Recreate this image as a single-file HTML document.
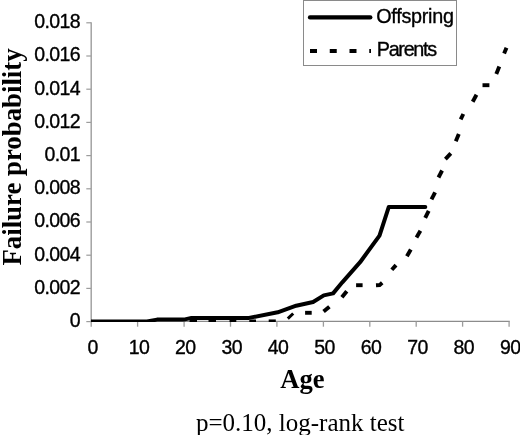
<!DOCTYPE html>
<html><head><meta charset="utf-8"><title>Failure probability by age</title>
<style>
html,body{margin:0;padding:0;background:#fff;}
body{width:520px;height:435px;overflow:hidden;}
svg{display:block;}
.sans{font-family:"Liberation Sans",Arial,Helvetica,sans-serif;fill:#000;stroke:#000;stroke-width:0.35px;}
.serif{font-family:"Liberation Serif","Times New Roman",Times,serif;fill:#000;}
</style></head><body>
<svg width="520" height="435" viewBox="0 0 520 435">
<rect width="520" height="435" fill="#fff"/>

<g fill="none">
<line x1="91.2" y1="22.3" x2="91.2" y2="322" stroke="#9c9c9c" stroke-width="1.4"/>
<line x1="90.5" y1="321.45" x2="509.8" y2="321.45" stroke="#8c8c8c" stroke-width="1.3"/>
<line x1="86.3" y1="22.8" x2="91" y2="22.8" stroke="#9c9c9c" stroke-width="1.2"/>
<line x1="86.3" y1="56.0" x2="91" y2="56.0" stroke="#9c9c9c" stroke-width="1.2"/>
<line x1="86.3" y1="89.2" x2="91" y2="89.2" stroke="#9c9c9c" stroke-width="1.2"/>
<line x1="86.3" y1="122.4" x2="91" y2="122.4" stroke="#9c9c9c" stroke-width="1.2"/>
<line x1="86.3" y1="155.6" x2="91" y2="155.6" stroke="#9c9c9c" stroke-width="1.2"/>
<line x1="86.3" y1="188.8" x2="91" y2="188.8" stroke="#9c9c9c" stroke-width="1.2"/>
<line x1="86.3" y1="222.0" x2="91" y2="222.0" stroke="#9c9c9c" stroke-width="1.2"/>
<line x1="86.3" y1="255.2" x2="91" y2="255.2" stroke="#9c9c9c" stroke-width="1.2"/>
<line x1="86.3" y1="288.4" x2="91" y2="288.4" stroke="#9c9c9c" stroke-width="1.2"/>
<line x1="86.3" y1="321.6" x2="91" y2="321.6" stroke="#9c9c9c" stroke-width="1.2"/>
<line x1="91.2" y1="321.5" x2="91.2" y2="326.7" stroke="#9c9c9c" stroke-width="1.3"/>
<line x1="137.6" y1="321.5" x2="137.6" y2="326.7" stroke="#9c9c9c" stroke-width="1.3"/>
<line x1="184.1" y1="321.5" x2="184.1" y2="326.7" stroke="#9c9c9c" stroke-width="1.3"/>
<line x1="230.5" y1="321.5" x2="230.5" y2="326.7" stroke="#9c9c9c" stroke-width="1.3"/>
<line x1="276.9" y1="321.5" x2="276.9" y2="326.7" stroke="#9c9c9c" stroke-width="1.3"/>
<line x1="323.4" y1="321.5" x2="323.4" y2="326.7" stroke="#9c9c9c" stroke-width="1.3"/>
<line x1="369.8" y1="321.5" x2="369.8" y2="326.7" stroke="#9c9c9c" stroke-width="1.3"/>
<line x1="416.2" y1="321.5" x2="416.2" y2="326.7" stroke="#9c9c9c" stroke-width="1.3"/>
<line x1="462.6" y1="321.5" x2="462.6" y2="326.7" stroke="#9c9c9c" stroke-width="1.3"/>
<line x1="509.1" y1="321.5" x2="509.1" y2="326.7" stroke="#9c9c9c" stroke-width="1.3"/>
</g>
<text class="sans" x="80.0" y="28.1" font-size="19.5" letter-spacing="-0.6" text-anchor="end">0.018</text>
<text class="sans" x="80.0" y="61.3" font-size="19.5" letter-spacing="-0.6" text-anchor="end">0.016</text>
<text class="sans" x="80.0" y="94.5" font-size="19.5" letter-spacing="-0.6" text-anchor="end">0.014</text>
<text class="sans" x="80.0" y="127.7" font-size="19.5" letter-spacing="-0.6" text-anchor="end">0.012</text>
<text class="sans" x="80.0" y="160.9" font-size="19.5" letter-spacing="-0.6" text-anchor="end">0.01</text>
<text class="sans" x="80.0" y="194.1" font-size="19.5" letter-spacing="-0.6" text-anchor="end">0.008</text>
<text class="sans" x="80.0" y="227.3" font-size="19.5" letter-spacing="-0.6" text-anchor="end">0.006</text>
<text class="sans" x="80.0" y="260.5" font-size="19.5" letter-spacing="-0.6" text-anchor="end">0.004</text>
<text class="sans" x="80.0" y="293.7" font-size="19.5" letter-spacing="-0.6" text-anchor="end">0.002</text>
<text class="sans" x="80.0" y="326.9" font-size="19.5" letter-spacing="-0.6" text-anchor="end">0</text>
<text class="sans" x="92.5" y="354.1" font-size="19.5" letter-spacing="-0.6" text-anchor="middle">0</text>
<text class="sans" x="138.9" y="354.1" font-size="19.5" letter-spacing="-0.6" text-anchor="middle">10</text>
<text class="sans" x="185.3" y="354.1" font-size="19.5" letter-spacing="-0.6" text-anchor="middle">20</text>
<text class="sans" x="231.7" y="354.1" font-size="19.5" letter-spacing="-0.6" text-anchor="middle">30</text>
<text class="sans" x="278.1" y="354.1" font-size="19.5" letter-spacing="-0.6" text-anchor="middle">40</text>
<text class="sans" x="324.6" y="354.1" font-size="19.5" letter-spacing="-0.6" text-anchor="middle">50</text>
<text class="sans" x="371.0" y="354.1" font-size="19.5" letter-spacing="-0.6" text-anchor="middle">60</text>
<text class="sans" x="417.4" y="354.1" font-size="19.5" letter-spacing="-0.6" text-anchor="middle">70</text>
<text class="sans" x="463.8" y="354.1" font-size="19.5" letter-spacing="-0.6" text-anchor="middle">80</text>
<text class="sans" x="510.2" y="354.1" font-size="19.5" letter-spacing="-0.6" text-anchor="middle">90</text>
<defs><clipPath id="plotclip"><rect x="91" y="0" width="430" height="321.9"/></clipPath></defs>
<g fill="none" stroke="#000" stroke-width="3.9" clip-path="url(#plotclip)">
<polyline points="189.5,321.4 197.0,321.4"/>
<polyline points="208.5,321.4 216.0,321.4"/>
<polyline points="229.5,321.4 236.3,321.4"/>
<polyline points="249.3,321.4 256.0,321.4"/>
<polyline points="268.7,321.4 275.8,321.4"/>
<polyline points="287.8,318.7 293.2,313.5" stroke-width="3"/>
<polyline points="305.1,312.8 311.7,312.8"/>
<polyline points="323.6,311.6 329.4,306.8"/>
<polyline points="341.9,297.3 346.8,291.2"/>
<polyline points="356.1,285.2 362.6,285.2"/>
<polyline points="376.0,285.3 379.6,285.1 382.2,282.8"/>
<polyline points="391.8,269.8 396.0,265.1"/>
<polyline points="406.9,256.3 410.8,249.5"/>
<polyline points="416.5,237.4 420.4,230.7"/>
<polyline points="425.2,217.8 428.7,210.9"/>
<polyline points="431.5,199.3 435.1,192.3"/>
<polyline points="438.5,177.5 442.1,170.5"/>
<polyline points="445.4,159.1 450.8,153.4"/>
<polyline points="455.8,141.2 458.8,134.0"/>
<polyline points="460.7,119.4 463.3,114.0"/>
<polyline points="472.7,101.8 476.5,94.8"/>
<polyline points="482.5,85.2 489.4,85.2"/>
<polyline points="496.3,73.9 499.3,66.5"/>
<polyline points="504.1,53.6 506.5,47.8"/>
</g>
<polyline points="91.4,321.4 147.0,321.4 157.0,319.6 183.8,319.6 191.5,317.9 249.0,317.9 277.7,312.3 296.2,305.7 313.1,302.0 323.8,295.4 333.1,293.4 342.3,282.3 360.1,262.2 379.5,235.6 388.8,206.9 425.3,206.9" fill="none" stroke="#000" stroke-width="4.0" stroke-linejoin="round" stroke-linecap="round" clip-path="url(#plotclip)"/>
<rect x="303.5" y="0.5" width="152.6" height="65" fill="#fff" stroke="#8a8a8a" stroke-width="1" shape-rendering="crispEdges"/>
<line x1="310" y1="17.4" x2="370.3" y2="17.4" stroke="#000" stroke-width="4.3" stroke-linecap="round"/>
<line x1="310" y1="50.9" x2="371" y2="50.9" stroke="#000" stroke-width="4" stroke-dasharray="7 12.75"/>
<text class="sans" x="376.2" y="23.2" font-size="19.8" textLength="77.8" lengthAdjust="spacing">Offspring</text>
<text class="sans" x="376.8" y="55.7" font-size="19.8" textLength="60.3" lengthAdjust="spacing">Parents</text>
<text class="serif" font-weight="bold" font-size="26.6" x="280.3" y="388.3">Age</text>
<text class="serif" font-size="25" x="196" y="430.5">p=0.10, log-rank test</text>
<text class="serif" font-weight="bold" font-size="27.8" transform="translate(20.5,265.6) rotate(-90) scale(0.965,1)">Failure probability</text>
</svg></body></html>
